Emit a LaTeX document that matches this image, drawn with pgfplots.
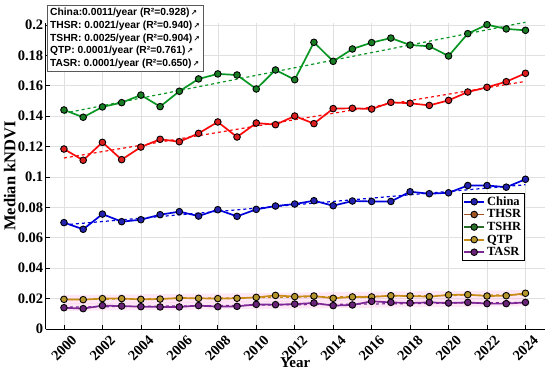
\documentclass[border=0pt]{standalone}
\usepackage{pgfplots}
\pgfplotsset{compat=1.18}
\usepackage{fontspec}
\setmainfont{Liberation Serif}
\newfontfamily\arialf{Liberation Sans}
\newfontfamily\dejavu{DejaVu Sans}
\definecolor{lChina}{RGB}{0,0,220}
\definecolor{mChina}{RGB}{35,35,175}
\definecolor{lTHSR}{RGB}{250,10,10}
\definecolor{mTHSR}{RGB}{220,30,30}
\definecolor{lTSHR}{RGB}{10,150,35}
\definecolor{mTSHR}{RGB}{25,125,35}
\definecolor{lQTP}{RGB}{200,140,25}
\definecolor{mQTP}{RGB}{180,150,45}
\definecolor{lTASR}{RGB}{125,40,150}
\definecolor{mTASR}{RGB}{105,35,120}
\definecolor{gTHSR}{RGB}{160,85,35}
\definecolor{gTSHR}{RGB}{40,110,40}
\definecolor{pinkband}{RGB}{255,190,230}
\newcommand{\ar}{{\dejavu\fontsize{7.5}{7.5}\selectfont\,↗}}
\begin{document}
\begin{tikzpicture}
\begin{axis}[
  at={(0pt,0pt)}, anchor=south west,
  scale only axis, width=499pt, height=306pt,
  xmin=1999.05, xmax=2025, ymin=0, ymax=0.2013,
  clip=false,
  axis x line*=bottom, axis y line*=left,
  axis line style={black, line width=0.8pt},
  xtick={2000,2002,2004,2006,2008,2010,2012,2014,2016,2018,2020,2022,2024},
  xticklabels={2000,2002,2004,2006,2008,2010,2012,2014,2016,2018,2020,2022,2024},
  ytick={0,0.02,0.04,0.06,0.08,0.1,0.12,0.14,0.16,0.18,0.2},
  yticklabels={0,0.02,0.04,0.06,0.08,0.1,0.12,0.14,0.16,0.18,0.2},
  grid=major, grid style={black!12, line width=0.6pt},
  tick style={black, line width=0.7pt}, major tick length=4pt,
  tick label style={font=\fontsize{14.5}{16}\selectfont\bfseries},
  yticklabel style={xshift=1pt},
  xticklabel style={yshift=-19pt, rotate=45, anchor=center},
  xlabel={Year}, ylabel={Median kNDVI},
  xlabel style={at={(axis description cs:0.5,-0.11)}, anchor=center, font=\fontsize{15}{17}\selectfont\bfseries},
  ylabel style={at={(axis description cs:-0.072,0.5)}, anchor=center, font=\fontsize{16.5}{18}\selectfont\bfseries},
  legend style={at={(axis description cs:0.834,0.444)}, anchor=north west,
    draw=black, line width=0.6pt, fill=white,
    font=\fontsize{12.5}{13}\selectfont\bfseries, inner sep=1.2pt, row sep=-1.2pt,
    cells={anchor=west}},
  legend image code/.code={\draw[mark repeat=2,mark phase=2,#1] plot coordinates {(0pt,0pt)(10pt,0pt)(20pt,0pt)};},
  every axis plot/.append style={line width=1.7pt},
  mark size=3.3pt,
]
% confidence bands
\addplot[fill=pinkband, draw=none, fill opacity=0.35, forget plot] coordinates {(2000,0.0163)(2024,0.0196)(2024,0.0256)(2000,0.0223)} -- cycle;
\addplot[fill=pinkband, draw=none, fill opacity=0.35, forget plot] coordinates {(2000,0.0119)(2024,0.0150)(2024,0.0200)(2000,0.0169)} -- cycle;
% trend lines
\addplot[lChina, dashed, line width=1.2pt, forget plot] coordinates {(2000,0.0685)(2024,0.0949)};
\addplot[lTHSR, dashed, line width=1.2pt, forget plot] coordinates {(2000,0.1125)(2024,0.1629)};
\addplot[lTSHR, dashed, line width=1.2pt, forget plot] coordinates {(2000,0.1419)(2024,0.2018)};
\addplot[lQTP, dashed, line width=1.2pt, forget plot] coordinates {(2000,0.0193)(2024,0.0226)};
\addplot[lTASR, dashed, line width=1.2pt, forget plot] coordinates {(2000,0.0144)(2024,0.0175)};
% data
\addplot[lChina, mark=*, mark options={solid, fill=mChina, draw=black, line width=0.9pt}, forget plot] coordinates {
(2000,0.0700)(2001,0.0656)(2002,0.0756)(2003,0.0706)(2004,0.0719)(2005,0.0752)(2006,0.0772)(2007,0.0743)(2008,0.0785)(2009,0.0741)(2010,0.0787)(2011,0.0809)(2012,0.0822)(2013,0.0844)(2014,0.0811)(2015,0.0842)(2016,0.0839)(2017,0.0839)(2018,0.0903)(2019,0.0890)(2020,0.0896)(2021,0.0944)(2022,0.0944)(2023,0.0933)(2024,0.0985)};
\addplot[lTHSR, mark=*, mark options={solid, fill=mTHSR, draw=black, line width=0.9pt}, forget plot] coordinates {
(2000,0.1184)(2001,0.1110)(2002,0.1228)(2003,0.1114)(2004,0.1197)(2005,0.1248)(2006,0.1232)(2007,0.1287)(2008,0.1362)(2009,0.1263)(2010,0.1355)(2011,0.1344)(2012,0.1401)(2013,0.1351)(2014,0.1450)(2015,0.1452)(2016,0.1447)(2017,0.1491)(2018,0.1485)(2019,0.1471)(2020,0.1504)(2021,0.1559)(2022,0.1590)(2023,0.1627)(2024,0.1682)};
\addplot[lTSHR, mark=*, mark options={solid, fill=mTSHR, draw=black, line width=0.9pt}, forget plot] coordinates {
(2000,0.1441)(2001,0.1393)(2002,0.1461)(2003,0.1489)(2004,0.1539)(2005,0.1463)(2006,0.1564)(2007,0.1645)(2008,0.1678)(2009,0.1671)(2010,0.1579)(2011,0.1704)(2012,0.1640)(2013,0.1886)(2014,0.1761)(2015,0.1842)(2016,0.1884)(2017,0.1914)(2018,0.1868)(2019,0.1860)(2020,0.1796)(2021,0.1943)(2022,0.2002)(2023,0.1974)(2024,0.1965)};
\addplot[lQTP, mark=*, mark options={solid, fill=mQTP, draw=black, line width=0.9pt}, forget plot] coordinates {
(2000,0.0195)(2001,0.0193)(2002,0.0200)(2003,0.0200)(2004,0.0195)(2005,0.0197)(2006,0.0204)(2007,0.0202)(2008,0.0200)(2009,0.0202)(2010,0.0208)(2011,0.0221)(2012,0.0213)(2013,0.0217)(2014,0.0202)(2015,0.0211)(2016,0.0211)(2017,0.0219)(2018,0.0217)(2019,0.0213)(2020,0.0224)(2021,0.0226)(2022,0.0217)(2023,0.0219)(2024,0.0235)};
\addplot[lTASR, mark=*, mark options={solid, fill=mTASR, draw=black, line width=0.9pt}, forget plot] coordinates {
(2000,0.0140)(2001,0.0134)(2002,0.0154)(2003,0.0151)(2004,0.0147)(2005,0.0145)(2006,0.0145)(2007,0.0154)(2008,0.0147)(2009,0.0149)(2010,0.0162)(2011,0.0160)(2012,0.0164)(2013,0.0171)(2014,0.0154)(2015,0.0158)(2016,0.0182)(2017,0.0175)(2018,0.0171)(2019,0.0175)(2020,0.0171)(2021,0.0175)(2022,0.0167)(2023,0.0167)(2024,0.0175)};
% legend entries
\addlegendimage{lChina, line width=1.7pt, mark=*, mark size=3.3pt, mark options={solid, fill=mChina, draw=black, line width=0.9pt}}
\addlegendentry{China}
\addlegendimage{gTHSR, line width=1.7pt, mark=*, mark size=3.3pt, mark options={solid, fill=gTHSR, draw=black, line width=0.9pt}}
\addlegendentry{THSR}
\addlegendimage{gTSHR, line width=1.7pt, mark=*, mark size=3.3pt, mark options={solid, fill=gTSHR, draw=black, line width=0.9pt}}
\addlegendentry{TSHR}
\addlegendimage{lQTP, line width=1.7pt, mark=*, mark size=3.3pt, mark options={solid, fill=mQTP, draw=black, line width=0.9pt}}
\addlegendentry{QTP}
\addlegendimage{lTASR, line width=1.7pt, mark=*, mark size=3.3pt, mark options={solid, fill=mTASR, draw=black, line width=0.9pt}}
\addlegendentry{TASR}
\node[draw=black!65, line width=0.9pt, fill=white, anchor=north west, align=left,
  inner xsep=3pt, inner ysep=2.5pt,
  font=\arialf\bfseries\fontsize{10.3}{12.8}\selectfont] at (axis description cs:0.002,1.0588)
  {China:0.0011/year (R²=0.928)\ar\\
   THSR: 0.0021/year (R²=0.940)\ar\\
   TSHR: 0.0025/year (R²=0.904)\ar\\
   QTP: 0.0001/year (R²=0.761)\ar\\
   TASR: 0.0001/year (R²=0.650)\ar};
\end{axis}
\pgfresetboundingbox
\path[use as bounding box] ([shift={(-45.7pt,-44pt)}]current axis.south west) rectangle ([shift={(504.3pt,329pt)}]current axis.south west);
\end{tikzpicture}
\end{document}
